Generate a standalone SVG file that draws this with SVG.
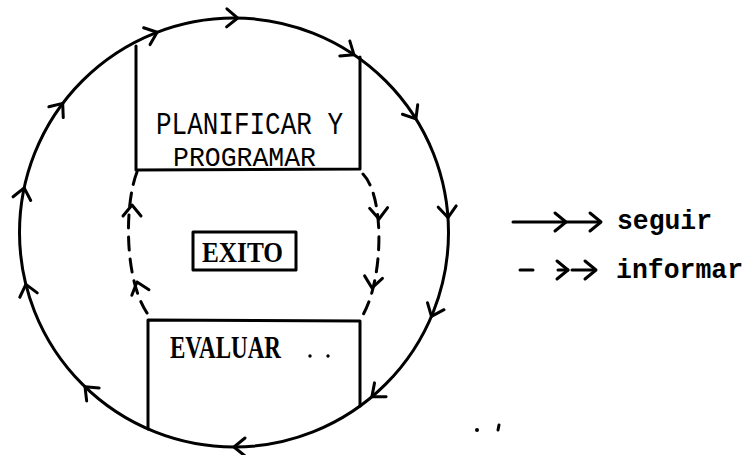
<svg xmlns="http://www.w3.org/2000/svg" xmlns:xlink="http://www.w3.org/1999/xlink" width="749" height="455" viewBox="0 0 749 455">
<style>
.ln{fill:none;stroke:#000;stroke-width:3;stroke-linecap:round;stroke-linejoin:round}
.ds{fill:none;stroke:#000;stroke-width:3;stroke-linecap:round;stroke-dasharray:13 9}
.mono{font-family:"Liberation Mono","DejaVu Sans Mono",monospace;fill:#000}
.serif{font-family:"Liberation Serif","DejaVu Serif",serif;font-weight:bold;fill:#000}
</style>
<defs>
<path id="chev" d="M-11,-9 L0,0 L-11,9" class="ln"/>
</defs>
<rect width="749" height="455" fill="#fff"/>
<g id="connectors">
<circle cx="234" cy="232.5" r="214.5" class="ln"/>
<use xlink:href="#chev" transform="translate(234 232.5) rotate(-111) translate(214.5 0) rotate(90)"/>
<use xlink:href="#chev" transform="translate(234 232.5) rotate(-89) translate(214.5 0) rotate(90)"/>
<use xlink:href="#chev" transform="translate(234 232.5) rotate(-56) translate(214.5 0) rotate(90)"/>
<use xlink:href="#chev" transform="translate(234 232.5) rotate(-32) translate(214.5 0) rotate(90)"/>
<use xlink:href="#chev" transform="translate(234 232.5) rotate(-4) translate(214.5 0) rotate(90)"/>
<use xlink:href="#chev" transform="translate(234 232.5) rotate(23) translate(214.5 0) rotate(90)"/>
<use xlink:href="#chev" transform="translate(234 232.5) rotate(50) translate(214.5 0) rotate(90)"/>
<use xlink:href="#chev" transform="translate(234 232.5) rotate(90) translate(214.5 0) rotate(90)"/>
<use xlink:href="#chev" transform="translate(234 232.5) rotate(134) translate(214.5 0) rotate(90)"/>
<use xlink:href="#chev" transform="translate(234 232.5) rotate(166) translate(214.5 0) rotate(90)"/>
<use xlink:href="#chev" transform="translate(234 232.5) rotate(192) translate(214.5 0) rotate(90)"/>
<use xlink:href="#chev" transform="translate(234 232.5) rotate(217) translate(214.5 0) rotate(90)"/>
<path d="M137,172 C124,205 124,285 150,317" class="ds"/>
<use xlink:href="#chev" transform="translate(132 205) rotate(-90)"/>
<use xlink:href="#chev" transform="translate(137 282) rotate(-108)"/>
<path d="M363,174 C386,198 383,285 361,318" class="ds"/>
<use xlink:href="#chev" transform="translate(379 219) rotate(88)"/>
<use xlink:href="#chev" transform="translate(372 288) rotate(98)"/>
</g>
<g id="planificar">
<path d="M136,46 L136,170 L360,169 M360,57 L360,169" class="ln"/>
<text x="156" y="134" class="mono" font-size="32" textLength="187" lengthAdjust="spacingAndGlyphs">PLANIFICAR Y</text>
<text x="173" y="166" class="mono" font-size="28" textLength="143" lengthAdjust="spacingAndGlyphs">PROGRAMAR</text>
</g>
<g id="exito">
<rect x="193" y="232" width="103" height="38" class="ln"/>
<text x="202" y="262" class="serif" font-size="30" textLength="81" lengthAdjust="spacingAndGlyphs">EXITO</text>
</g>
<g id="evaluar">
<path d="M148,429 L148,320 L360,321 L360,406" class="ln"/>
<text x="170" y="358" class="serif" font-size="31" textLength="111" lengthAdjust="spacingAndGlyphs">EVALUAR</text>
<circle cx="310" cy="356" r="1.7"/>
<circle cx="328" cy="356" r="1.7"/>
</g>
<g id="legend">
<path d="M513,222 L600,222" class="ln"/>
<use xlink:href="#chev" transform="translate(566 222)"/>
<use xlink:href="#chev" transform="translate(601 222)"/>
<text x="617" y="229" class="mono" font-size="28" font-weight="bold" textLength="95" lengthAdjust="spacingAndGlyphs">seguir</text>
<path d="M520,270 L533,270 M558,270 L568,270 M572,270 L595,270" class="ln"/>
<use xlink:href="#chev" transform="translate(568 270)"/>
<use xlink:href="#chev" transform="translate(596 270)"/>
<text x="616" y="278" class="mono" font-size="28" font-weight="bold" textLength="127" lengthAdjust="spacingAndGlyphs">informar</text>
</g>
<g id="marks">
<circle cx="477" cy="430" r="2"/>
<path d="M499,425 L498,430" class="ln" stroke-width="2.2"/>
</g>
</svg>
